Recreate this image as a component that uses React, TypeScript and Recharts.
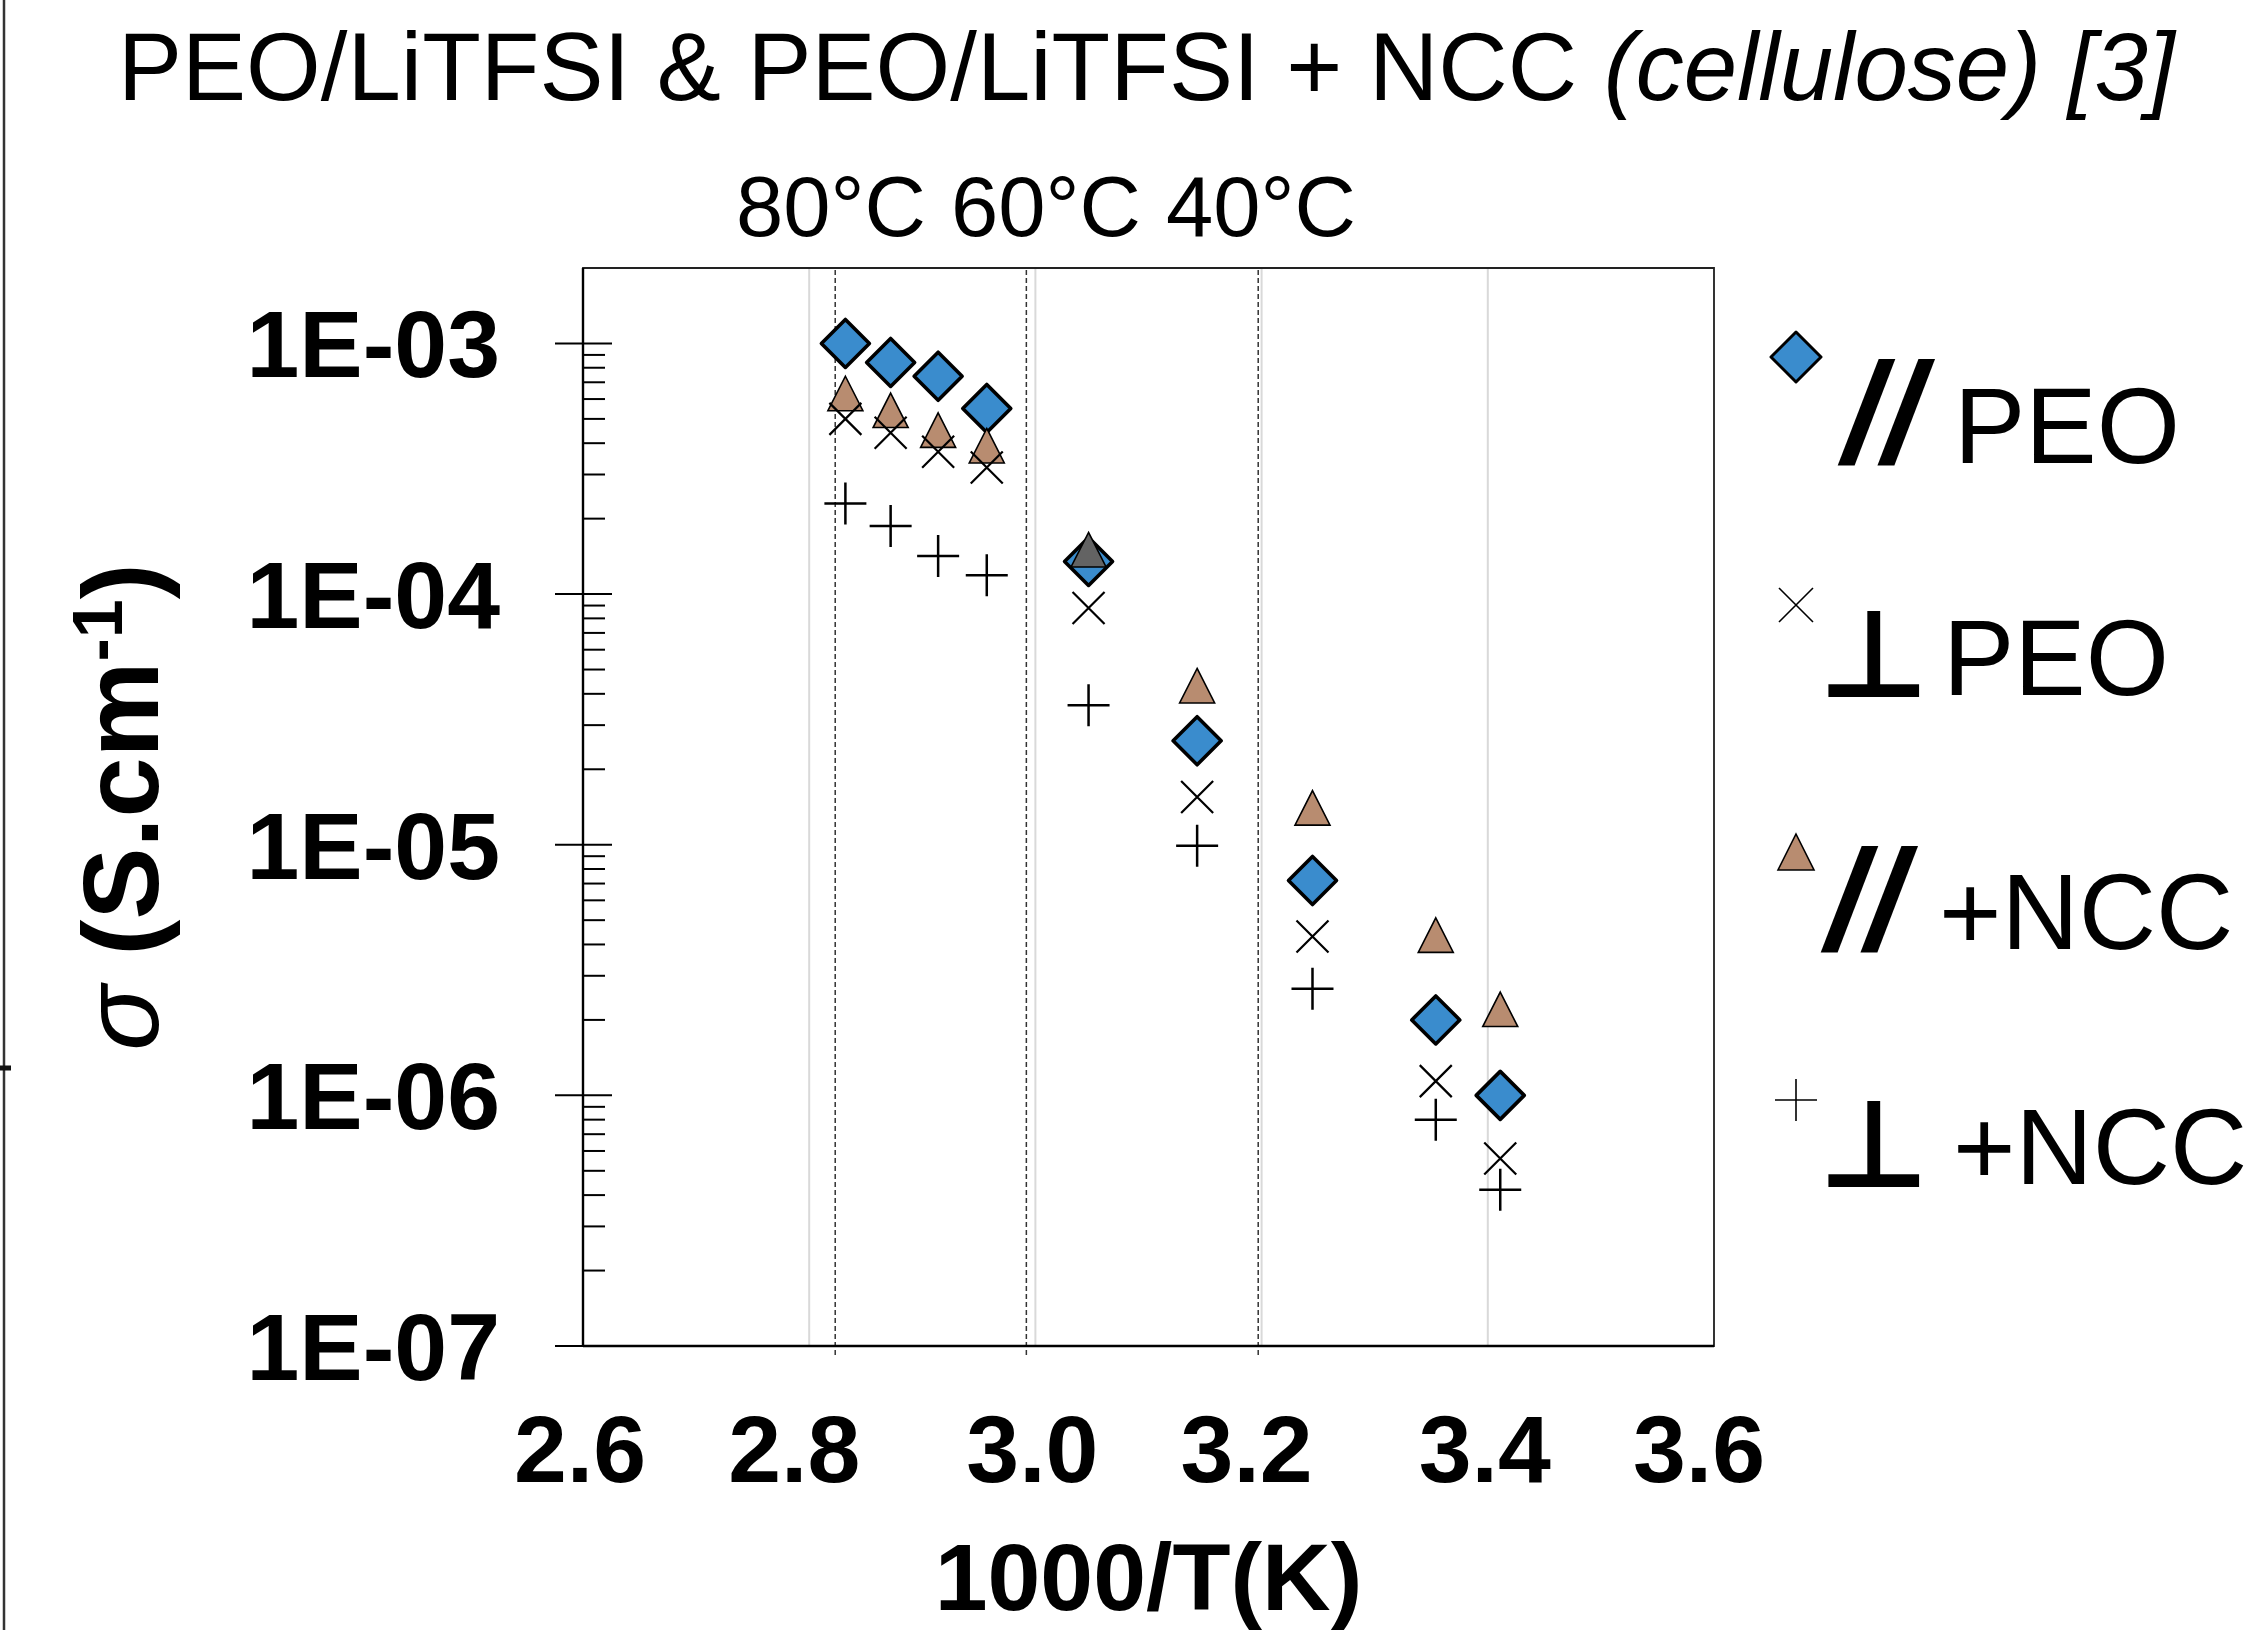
import React from "react";
import {
  ScatterChart,
  Scatter,
  XAxis,
  YAxis,
  CartesianGrid,
  ReferenceLine,
  ReferenceArea,
  Legend,
  Label,
  Cell,
} from "recharts";

const FONT = "'Liberation Sans', Arial, Helvetica, sans-serif";

// 1000/T (K) : 80, 75, 70, 65, 55, 45, 35, 25, 20 °C
const invT = [2.832, 2.872, 2.914, 2.957, 3.047, 3.143, 3.245, 3.354, 3.411];

// conductivity sigma (S/cm)
const peoParallel = [1.0e-3, 8.4e-4, 7.4e-4, 5.5e-4, 1.35e-4, 2.6e-5, 7.2e-6, 2.0e-6, 1.0e-6];
const peoPerp = [5.0e-4, 4.4e-4, 3.7e-4, 3.2e-4, 8.8e-5, 1.55e-5, 4.3e-6, 1.14e-6, 5.6e-7];
const nccParallel = [6.3e-4, 5.4e-4, 4.5e-4, 3.9e-4, 1.5e-4, 4.3e-5, 1.4e-5, 4.35e-6, 2.2e-6];
const nccPerp = [2.3e-4, 1.87e-4, 1.42e-4, 1.19e-4, 3.6e-5, 9.9e-6, 2.66e-6, 8.0e-7, 4.2e-7];

const xTicks = [2.6, 2.8, 3.0, 3.2, 3.4, 3.6];
const yDecades = [1e-7, 1e-6, 1e-5, 1e-4, 1e-3];
const minorSteps = [2, 3, 4, 5, 6, 7, 8, 9];

// isotherm markers
const tempLines = [2.823, 2.992, 3.197];
const tempLabels = ["80°C", "60°C", "40°C"];

const seriesSymbols = ["//", "⊥", "//", "⊥"];
const seriesLabels = ["PEO", "PEO", "+NCC", "+NCC"];

const BLUE = "#3A8CCD";
const BROWN = "#B88C70";

const toPoints = (ys: number[]) => invT.map((x, i) => ({ x, y: ys[i] }));

const yTicks = yDecades.flatMap((d) =>
  d === 1e-3 ? [d] : [d, ...minorSteps.map((k) => k * d)],
);

const isDecade = (v: number) =>
  Math.abs(Math.log10(v) - Math.round(Math.log10(v))) < 1e-6;

// marker shapes
const Diamond = ({ cx, cy, fill }: any) => (
  <path
    d={`M${cx},${cy - 24} L${cx + 24},${cy} L${cx},${cy + 24} L${cx - 24},${cy} Z`}
    fill={fill}
    stroke="#000"
    strokeWidth={3.6}
    strokeLinejoin="round"
  />
);

const Triangle = ({ cx, cy, fill }: any) => (
  <path
    d={`M${cx},${cy - 17.5} L${cx + 17.5},${cy + 17} L${cx - 17.5},${cy + 17} Z`}
    fill={fill}
    stroke="#000"
    strokeWidth={1.6}
  />
);

const XMark = ({ cx, cy }: any) => (
  <path
    d={`M${cx - 16},${cy - 16} L${cx + 16},${cy + 16} M${cx - 16},${cy + 16} L${cx + 16},${cy - 16}`}
    stroke="#000"
    strokeWidth={2.2}
    fill="none"
  />
);

const PlusMark = ({ cx, cy }: any) => (
  <path
    d={`M${cx - 21},${cy} L${cx + 21},${cy} M${cx},${cy - 21} L${cx},${cy + 21}`}
    stroke="#000"
    strokeWidth={2.5}
    fill="none"
  />
);

// ticks
const YTick = ({ x, y, payload }: any) => {
  const v = payload.value;
  if (isDecade(v)) {
    const exp = Math.round(Math.log10(v));
    const label = `1E-${String(-exp).padStart(2, "0")}`;
    return (
      <g>
        <line x1={x - 28} x2={x + 29} y1={y} y2={y} stroke="#000" strokeWidth={2} />
        <text
          x={x - 83}
          y={y + 34}
          textAnchor="end"
          fontFamily={FONT}
          fontWeight="bold"
          fontSize={95}
          fill="#000"
        >
          {label}
        </text>
      </g>
    );
  }
  return <line x1={x} x2={x + 22} y1={y} y2={y} stroke="#000" strokeWidth={2} />;
};

const XTick = ({ x, y, payload, index }: any) => (
  <text
    x={x + (index % 2 ? -15 : -3)}
    y={y + 136}
    textAnchor="middle"
    fontFamily={FONT}
    fontWeight="bold"
    fontSize={95}
    fill="#000"
  >
    {Number(payload.value).toFixed(1)}
  </text>
);

const YTitle = ({ viewBox }: any) => {
  const bx = 158;
  const cy = viewBox.y + viewBox.height / 2;
  return (
    <text
      x={bx}
      y={cy}
      transform={`rotate(-90 ${bx} ${cy})`}
      textAnchor="middle"
      fontFamily={FONT}
      fontWeight="bold"
      fontSize={108}
      fill="#000"
    >
      <tspan fontStyle="italic" fontWeight="normal">σ</tspan>
      <tspan>{" (S.cm"}</tspan>
      <tspan fontSize={70} dy={-36}>-1</tspan>
      <tspan dy={36}>)</tspan>
    </text>
  );
};

const XTitle = ({ viewBox }: any) => (
  <text
    x={viewBox.x + viewBox.width / 2}
    y={viewBox.y + 264}
    textAnchor="middle"
    fontFamily={FONT}
    fontWeight="bold"
    fontSize={95}
    fill="#000"
  >
    1000/T(K)
  </text>
);

// legend, drawn as its own small svg
const LegendMarker = ({ kind, cx, cy }: any) => {
  if (kind === 0)
    return (
      <path
        d={`M${cx},${cy - 25} L${cx + 25},${cy} L${cx},${cy + 25} L${cx - 25},${cy} Z`}
        fill={BLUE}
        stroke="#000"
        strokeWidth={3}
        strokeLinejoin="round"
      />
    );
  if (kind === 1)
    return (
      <path
        d={`M${cx - 17},${cy - 17} L${cx + 17},${cy + 17} M${cx - 17},${cy + 17} L${cx + 17},${cy - 17}`}
        stroke="#000"
        strokeWidth={1.6}
      />
    );
  if (kind === 2)
    return (
      <path
        d={`M${cx},${cy - 18} L${cx + 18},${cy + 18} L${cx - 18},${cy + 18} Z`}
        fill={BROWN}
        stroke="#000"
        strokeWidth={1.6}
      />
    );
  return (
    <path
      d={`M${cx - 21},${cy} L${cx + 21},${cy} M${cx},${cy - 21} L${cx},${cy + 21}`}
      stroke="#000"
      strokeWidth={1.6}
    />
  );
};

const LegendContent = () => {
  const markerY = [57, 305, 552, 800];
  const symX = [84, 59, 67, 59];
  const symBase = [163, 397, 650, 887];
  const labelX = [195, 184, 180, 194];
  const labelBase = [163, 395, 649, 884];
  return (
    <svg width={500} height={920}>
      {seriesLabels.map((label, i) => (
        <g key={i}>
          <LegendMarker kind={i} cx={37} cy={markerY[i]} />
          {seriesSymbols[i] === "//" ? (
            <text
              x={symX[i]}
              y={symBase[i]}
              fontFamily={FONT}
              fontWeight="bold"
              fontStyle="italic"
              fontSize={143}
              fill="#000"
            >
              {seriesSymbols[i]}
            </text>
          ) : (
            <text
              x={symX[i]}
              y={symBase[i]}
              fontFamily="'DejaVu Sans', sans-serif"
              fontWeight="bold"
              fontSize={122}
              fill="#000"
            >
              {seriesSymbols[i]}
            </text>
          )}
          <text x={labelX[i]} y={labelBase[i]} fontFamily={FONT} fontSize={107} fill="#000">
            {label}
          </text>
        </g>
      ))}
    </svg>
  );
};

export default function App() {
  const tempLabelX = [736, 951, 1166];
  return (
    <div style={{ position: "absolute", left: 0, top: 0, width: 2259, height: 1630, background: "#fff" }}>
      <ScatterChart
        width={2259}
        height={1630}
        margin={{ top: 268, right: 545, bottom: 0, left: 0 }}
      >
        <CartesianGrid horizontal={false} stroke="#d9d9d9" strokeWidth={2} />
        <XAxis
          type="number"
          dataKey="x"
          domain={[2.6, 3.6]}
          ticks={xTicks}
          interval={0}
          height={284}
          tickLine={false}
          tickSize={0}
          tickMargin={0}
          tick={XTick}
          axisLine={{ stroke: "#000", strokeWidth: 2.4 }}
          allowDataOverflow
        >
          <Label content={XTitle} />
        </XAxis>
        <YAxis
          type="number"
          dataKey="y"
          scale="log"
          domain={[1e-7, 2e-3]}
          ticks={yTicks}
          interval={0}
          width={583}
          tickLine={false}
          tickSize={0}
          tickMargin={0}
          tick={YTick}
          axisLine={{ stroke: "#000", strokeWidth: 2.4 }}
          allowDataOverflow
        >
          <Label content={YTitle} />
        </YAxis>
        <ReferenceArea
          x1={2.6}
          x2={3.6}
          y1={1e-7}
          y2={2e-3}
          fill="none"
          fillOpacity={0}
          stroke="#222"
          strokeWidth={1.8}
        />
        {tempLines.map((t) => (
          <ReferenceLine
            key={t}
            segment={[
              { x: t, y: 9.2e-8 },
              { x: t, y: 2e-3 },
            ]}
            ifOverflow="visible"
            stroke="#333"
            strokeWidth={1.5}
            strokeDasharray="5 3"
          />
        ))}
        <Scatter
          name="// PEO"
          data={toPoints(peoParallel)}
          fill={BLUE}
          shape={Diamond}
          isAnimationActive={false}
        />
        <Scatter
          name="// +NCC"
          data={toPoints(nccParallel)}
          fill={BROWN}
          shape={Triangle}
          isAnimationActive={false}
        >
          {nccParallel.map((_, i) => (
            <Cell key={i} fill={i === 4 ? "#636363" : BROWN} />
          ))}
        </Scatter>
        <Scatter
          name="⊥ PEO"
          data={toPoints(peoPerp)}
          fill="#000"
          shape={XMark}
          isAnimationActive={false}
        />
        <Scatter
          name="⊥ +NCC"
          data={toPoints(nccPerp)}
          fill="#000"
          shape={PlusMark}
          isAnimationActive={false}
        />
        <Legend
          layout="horizontal"
          verticalAlign="middle"
          align="center"
          content={LegendContent}
          wrapperStyle={{ left: 1759, top: 300, width: 500, height: 920 }}
        />
      </ScatterChart>
      <svg
        width={2259}
        height={1630}
        style={{ position: "absolute", left: 0, top: 0, pointerEvents: "none" }}
      >
        <line x1={4} y1={0} x2={4} y2={1630} stroke="#333" strokeWidth={2.5} />
        <line x1={0} y1={1068} x2={11} y2={1068} stroke="#111" strokeWidth={5} />
        <text x={118} y={100} fontFamily={FONT} fontSize={96} fill="#000">
          {"PEO/LiTFSI & PEO/LiTFSI + NCC "}
          <tspan fontStyle="italic">(cellulose) [3]</tspan>
        </text>
        {tempLabels.map((t, i) => (
          <text key={t} x={tempLabelX[i]} y={236} fontFamily={FONT} fontSize={85} fill="#000">
            {t}
          </text>
        ))}
      </svg>
    </div>
  );
}
